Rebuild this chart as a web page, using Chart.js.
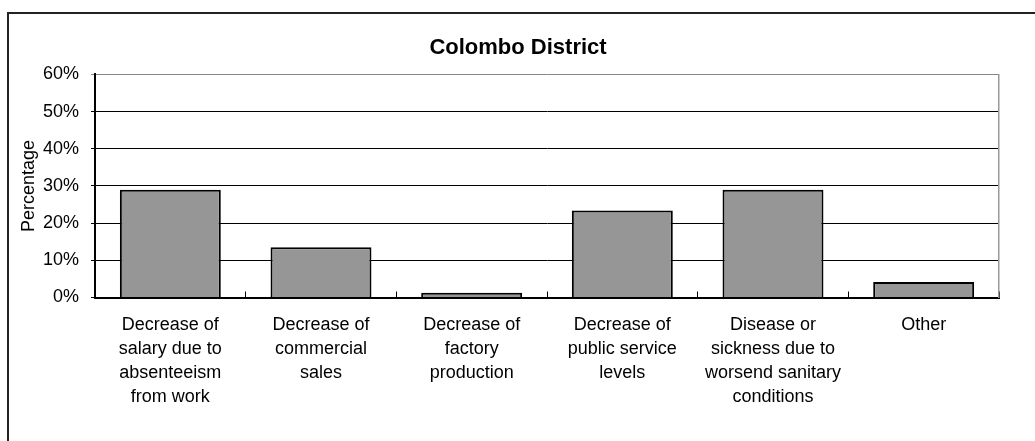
<!DOCTYPE html>
<html>
<head>
<meta charset="utf-8">
<script src="https://cdn.jsdelivr.net/npm/chart.js@4/dist/chart.umd.min.js"></script>
<style>
  html, body { margin: 0; padding: 0; background: #fff; overflow: hidden; }
  #wrap { position: relative; width: 1035px; height: 441px; }
  #frame { position: absolute; left: 7px; top: 12px; width: 1100px; height: 500px;
           border-left: 2px solid #222; border-top: 2px solid #222; pointer-events: none; }
  canvas { position: absolute; left: 0; top: 0; }
</style>
</head>
<body>
<div id="wrap">
  <div id="frame"></div>
  <canvas id="chart" width="1035" height="441"></canvas>
</div>
<script>
const categories = [
    ['Decrease of', 'salary due to', 'absenteeism', 'from work'],
    ['Decrease of', 'commercial', 'sales'],
    ['Decrease of', 'factory', 'production'],
    ['Decrease of', 'public service', 'levels'],
    ['Disease or', 'sickness due to', 'worsend sanitary', 'conditions'],
    ['Other']
];
const percentages = [29.0, 13.5, 1.3, 23.4, 29.0, 4.2];
const yTicks = [0, 10, 20, 30, 40, 50, 60];

Chart.defaults.font.family = '"Liberation Sans", Arial, sans-serif';
Chart.defaults.color = '#000';

const ctx = document.getElementById('chart').getContext('2d');
const chart = new Chart(ctx, {
    type: 'bar',
    data: {
        labels: categories,
        datasets: [{
            label: 'Percentage',
            data: percentages,
            backgroundColor: '#969696',
            borderColor: '#000',
            borderWidth: 2,
            barPercentage: 0.67,
            categoryPercentage: 1
        }]
    },
    options: {
        responsive: false,
        animation: false,
        layout: { padding: { left: 1, right: 0, top: 0, bottom: 0 } },
        scales: {
            x: {
                grid: {
                    offset: true,
                    drawOnChartArea: false,
                    drawTicks: true,
                    tickLength: -6,
                    color: '#000',
                    lineWidth: 1
                },
                border: { display: true, color: '#000', width: 2 },
                ticks: {
                    maxRotation: 0,
                    autoSkip: false,
                    padding: 22,
                    font: { size: 18, lineHeight: 1.333 }
                },
                afterFit(scale) { scale.height = 143.5; }
            },
            y: {
                min: 0,
                max: 60,
                afterBuildTicks(scale) { scale.ticks = yTicks.map(v => ({ value: v })); },
                ticks: {
                    padding: 12,
                    font: { size: 18 },
                    callback: v => v + '%'
                },
                grid: {
                    color: c => (c.tick && c.tick.value === 60) ? '#888' : '#000',
                    lineWidth: 1,
                    tickLength: 4
                },
                border: { display: true, color: '#000', width: 2 },
                title: {
                    display: true,
                    text: 'Percentage',
                    font: { size: 18 },
                    padding: { top: 17, bottom: 0 }
                },
                afterFit(scale) { scale.width = 94; }
            },
            y2: {
                position: 'right',
                display: true,
                grid: { display: false },
                ticks: { display: false },
                border: { display: true, color: '#999', width: 1.5 },
                afterFit(scale) { scale.width = 36; }
            }
        },
        plugins: {
            legend: { display: false },
            tooltip: { enabled: false },
            title: {
                display: true,
                text: 'Colombo District',
                color: '#000',
                font: { size: 22, weight: 'bold' },
                padding: { top: 35, bottom: 13 }
            }
        }
    }
});
</script>
</body>
</html>
